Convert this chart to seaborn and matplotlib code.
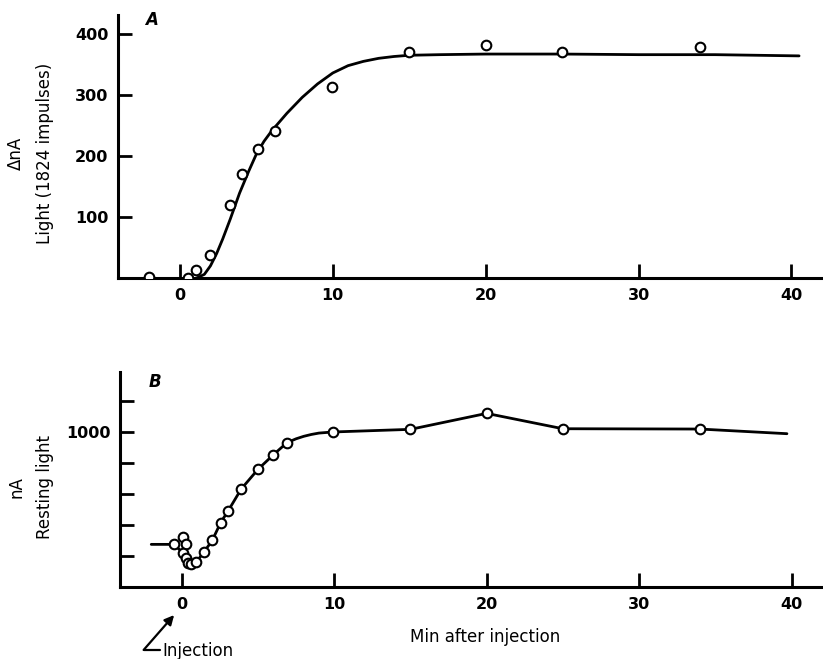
import matplotlib
matplotlib.use("Agg")
import matplotlib.pyplot as plt
import seaborn as sns
import pandas as pd

# ---- Panel A data: light response (ΔnA) ----
a_pts_x = [-2.0, 0.5, 1.05, 2.0, 3.27, 4.03, 5.12, 6.25, 9.95, 15.0, 20.0, 25.0, 34.0]
a_pts_y = [2, 0, 13, 37, 119, 170, 211, 241, 313, 370, 382, 370, 378]
a_curve_x = [1.1, 1.6, 2.0, 2.4, 2.8, 3.3, 3.9, 4.5, 5.0, 5.5, 6.0, 7.0, 8.0, 9.0, 10.0,
             11.0, 12.0, 13.0, 14.0, 15.0, 17.0, 20.0, 25.0, 30.0, 35.0, 40.5]
a_curve_y = [0, 6, 20, 40, 64, 97, 139, 175, 203, 224, 241, 270, 296, 318, 336,
             348, 355, 360, 363, 365, 366, 367, 367, 366, 366, 364]

# ---- Panel B data: resting light (nA) ----
b_pts_x = [-0.5, 0.05, 0.3, 0.1, 0.25, 0.4, 0.6, 0.95, 1.45, 2.0, 2.55, 3.05, 3.9,
           5.0, 6.0, 6.9, 9.9, 15.0, 20.0, 25.0, 34.0]
b_pts_y = [275, 320, 278, 217, 185, 157, 146, 160, 225, 300, 415, 492, 632,
           759, 852, 931, 1000, 1017, 1120, 1021, 1019]
b_line_x = [-2.0, -0.5, 0.1, 0.25, 0.4, 0.6, 0.95, 1.45, 2.0, 2.55, 3.05, 3.9, 5.0,
            6.0, 6.9, 7.5, 8.0, 8.5, 9.0, 9.9, 15.0, 20.0, 25.0, 34.0, 39.7]
b_line_y = [275, 275, 217, 185, 157, 146, 160, 225, 300, 415, 492, 632, 759,
            852, 931, 956, 972, 984, 993, 1000, 1017, 1120, 1021, 1019, 989]

x_ticks = [0, 10, 20, 30, 40]
a_yticks = [100, 200, 300, 400]
b_yticks = [200, 400, 600, 800, 1000, 1200]
b_yticklabels = ["", "", "", "", "1000", ""]

sns.set_style("ticks")
plt.rcParams["font.family"] = ["DejaVu Sans"]
plt.rcParams["text.color"] = "black"
plt.rcParams["axes.labelcolor"] = "black"

fig = plt.figure(figsize=(8.23, 6.59), dpi=100)
axA = fig.add_axes([118/823, 1-278/659, (822-118)/823, (278-15)/659])
axB = fig.add_axes([120/823, 1-587/659, (822-120)/823, (587-372)/659])

dfA_pts = pd.DataFrame({"x": a_pts_x, "y": a_pts_y})
dfA_cur = pd.DataFrame({"x": a_curve_x, "y": a_curve_y})
dfB_pts = pd.DataFrame({"x": b_pts_x, "y": b_pts_y})
dfB_lin = pd.DataFrame({"x": b_line_x, "y": b_line_y})

sns.lineplot(data=dfA_cur, x="x", y="y", ax=axA, color="black", lw=2.0,
             sort=False, estimator=None, zorder=2)
sns.scatterplot(data=dfA_pts, x="x", y="y", ax=axA, marker="o", s=48,
                facecolor="white", edgecolor="black", linewidth=1.5, zorder=3)

sns.lineplot(data=dfB_lin, x="x", y="y", ax=axB, color="black", lw=2.0,
             sort=False, estimator=None, zorder=2)
sns.scatterplot(data=dfB_pts, x="x", y="y", ax=axB, marker="o", s=48,
                facecolor="white", edgecolor="black", linewidth=1.5, zorder=3)

for ax in (axA, axB):
    ax.set_xlim(-4.05, 42)
    ax.set_xticks(x_ticks)
    ax.set_xticklabels([str(t) for t in x_ticks], fontsize=11.5, fontweight="bold",
                       color="black")
    sns.despine(ax=ax)
    for s in ("left", "bottom"):
        ax.spines[s].set_linewidth(2.2)
        ax.spines[s].set_color("black")
    ax.tick_params(direction="in", length=10, width=2, colors="black", pad=7)
    ax.set_xlabel("")
    ax.set_ylabel("")

axA.set_ylim(0, 431)
axA.set_yticks(a_yticks)
axA.set_yticklabels([str(t) for t in a_yticks], fontsize=11.5, fontweight="bold",
                    color="black")
axA.set_ylabel("ΔnA\nLight (1824 impulses)", fontsize=12, linespacing=1.8,
               color="black")
axA.yaxis.label.set_va("center")
axA.yaxis.set_label_coords(-0.124, 0.475)
axA.text(0.048, 0.981, "A", transform=axA.transAxes, fontsize=12,
         fontweight="bold", fontstyle="italic", ha="center", va="center")

axB.set_ylim(0, 1387)
axB.set_yticks(b_yticks)
axB.set_yticklabels(b_yticklabels, fontsize=11.5, fontweight="bold", color="black")
axB.set_ylabel("nA\nResting light", fontsize=12, linespacing=1.7, color="black")
axB.yaxis.label.set_va("center")
axB.yaxis.set_label_coords(-0.127, 0.465)
axB.set_xlabel("Min after injection", fontsize=12, color="black")
axB.xaxis.set_label_coords(0.52, -0.233)
axB.xaxis.label.set_va("center")
axB.text(0.05, 0.953, "B", transform=axB.transAxes, fontsize=12,
         fontweight="bold", fontstyle="italic", ha="center", va="center")

# Injection marker
axB.annotate("", xy=(-0.5, -181), xytext=(-2.5, -406),
             arrowprops=dict(arrowstyle="-|>", lw=1.6, color="black",
                             mutation_scale=14, shrinkA=0, shrinkB=0),
             annotation_clip=False)
axB.plot([-2.5, -1.4], [-406, -406], color="black", lw=1.6, clip_on=False)
axB.text(-1.3, -410, "Injection", fontsize=12, ha="left", va="center",
         clip_on=False)

fig.savefig("out.png", dpi=100)
